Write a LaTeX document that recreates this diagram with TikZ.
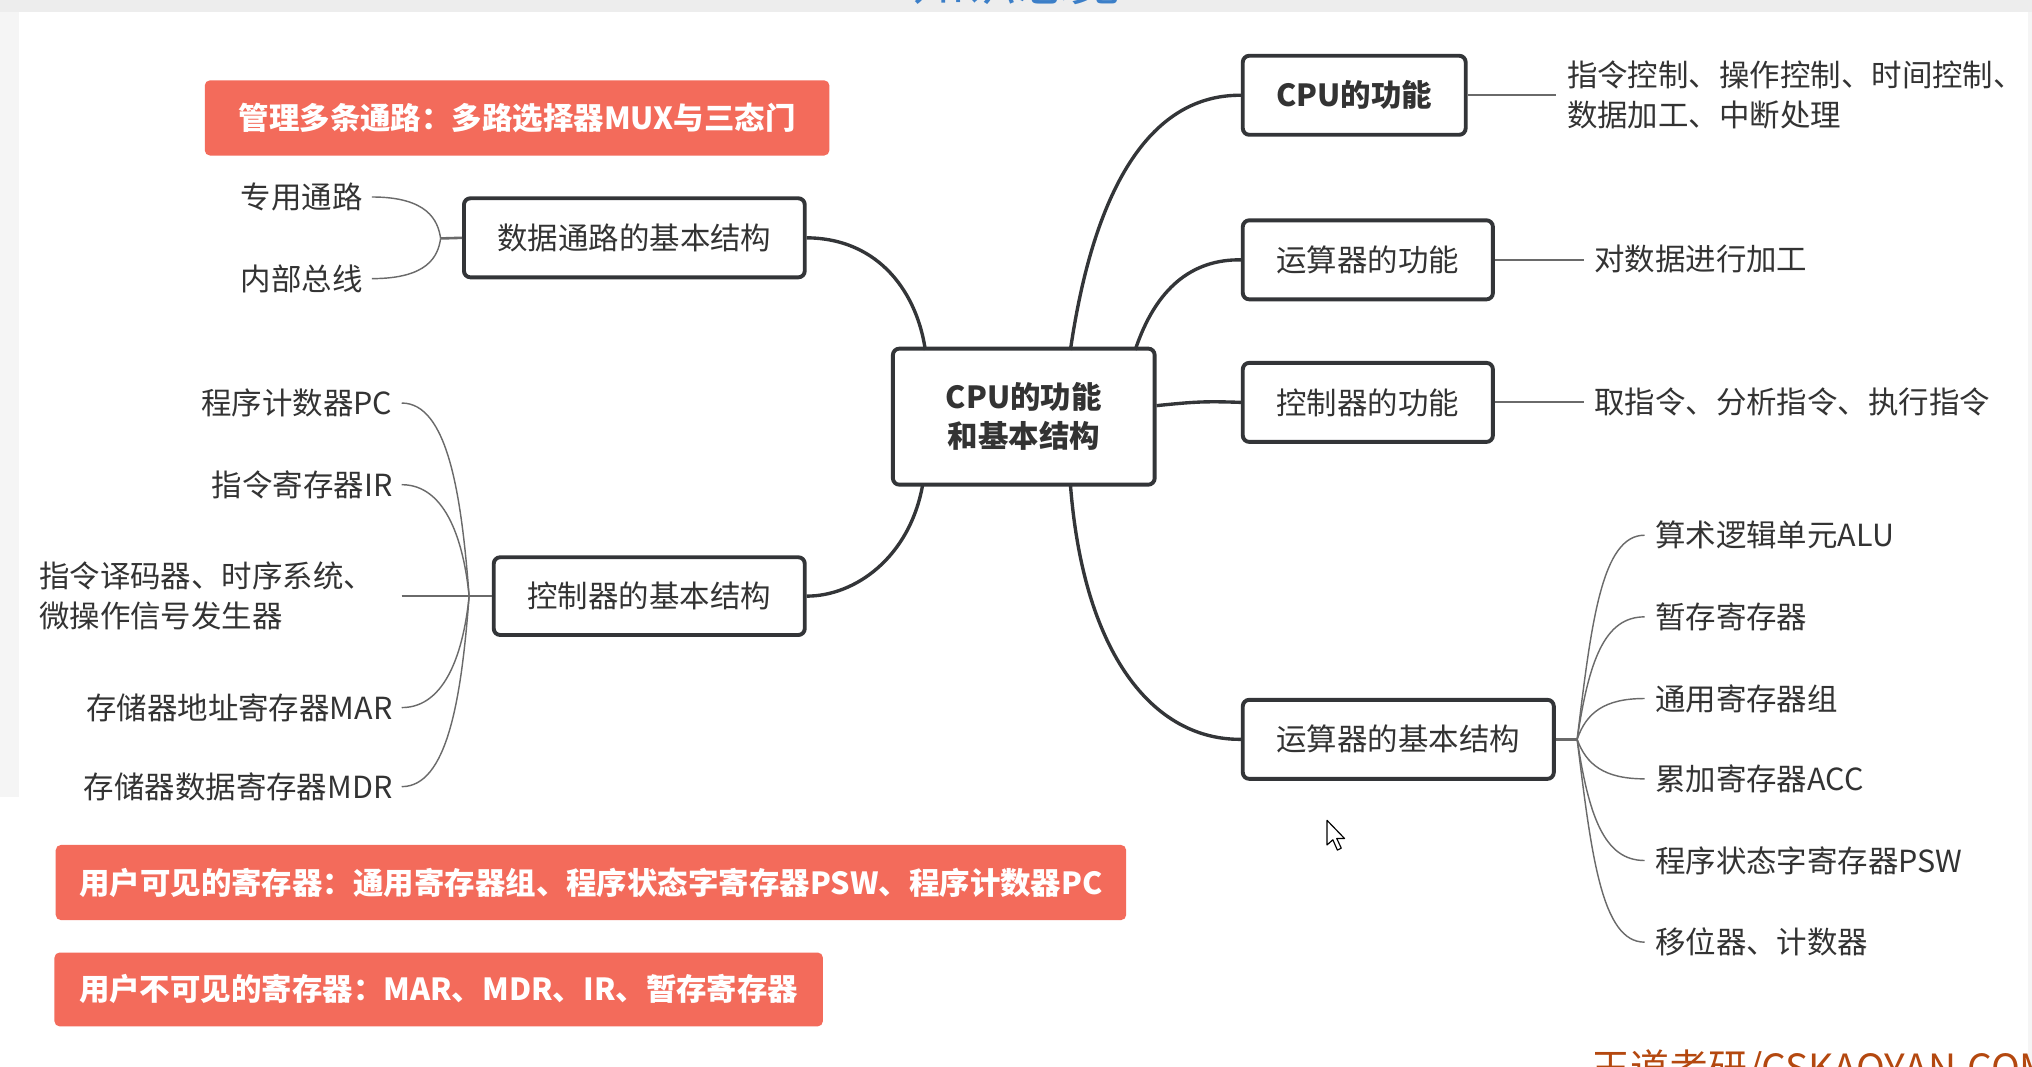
\documentclass[tikz,border=0pt]{standalone}
\usepackage{fontspec}
\setmainfont{Noto Sans CJK SC}
\usetikzlibrary{positioning}
\definecolor{boxline}{HTML}{333538}
\definecolor{redfill}{HTML}{F36B5B}
\definecolor{txt}{HTML}{333333}
\definecolor{thin}{HTML}{6A6A6A}
\definecolor{wm}{HTML}{B4480F}
\definecolor{ttl}{HTML}{3C7FC8}
\tikzset{
  mainbox/.style={draw=boxline, line width=3pt, rounded corners=5pt, fill=white,
    text=txt, inner sep=0pt, align=center, font=\fontsize{23.5}{30}\selectfont},
  redbox/.style={fill=redfill, rounded corners=4pt, text=white, inner sep=0pt,
    font=\fontsize{23.5}{28}\selectfont\bfseries},
  leaf/.style={text=txt, inner sep=0pt, align=left, font=\fontsize{23.5}{31}\selectfont},
  thick link/.style={draw=boxline, line width=2.6pt},
  thin link/.style={draw=thin, line width=1.1pt},
  stub/.style={draw=thin, line width=2pt},
}
\begin{document}
\begin{tikzpicture}[x=1pt,y=-1pt]
\useasboundingbox (0,0) rectangle (1568,823);
\clip (0,0) rectangle (1568,823);
% backgrounds
\fill[white] (0,0) rectangle (1568,823);
\fill[black!7] (0,0) rectangle (1568,9);
\fill[black!4] (0,9) rectangle (15,615);
\fill[black!4] (1565,9) rectangle (1568,823);
\node[text=ttl, font=\fontsize{40}{40}\selectfont, anchor=south, inner sep=0pt] (title) at (785,4) {知识总览};
\node[text=wm, font=\fontsize{30}{30}\selectfont, anchor=north west, inner sep=0pt] (wmark) at (1228,810) {王道考研/CSKAOYAN.COM};

% main nodes
\node[mainbox, minimum width=202pt, minimum height=105pt, font=\fontsize{23.5}{30}\selectfont\bfseries] (cpu) at (790,321.5) {CPU的功能\\和基本结构};
\node[mainbox, minimum width=263pt, minimum height=61pt] (data) at (489.5,183.5) {数据通路的基本结构};
\node[mainbox, minimum width=240pt, minimum height=60pt] (cstruct) at (501,460) {控制器的基本结构};
\node[mainbox, minimum width=172pt, minimum height=61pt, font=\fontsize{23.5}{30}\selectfont\bfseries] (cpuf) at (1045,73.5) {CPU的功能};
\node[mainbox, minimum width=193pt, minimum height=61pt] (aluf) at (1055.5,200.5) {运算器的功能};
\node[mainbox, minimum width=193pt, minimum height=61pt] (ctrlf) at (1055.5,310.5) {控制器的功能};
\node[mainbox, minimum width=240pt, minimum height=61pt] (astruct) at (1079,570.5) {运算器的基本结构};

% red notes
\node[redbox, minimum width=482pt, minimum height=58pt] (note1) at (399,91) {管理多条通路：多路选择器MUX与三态门};
\node[redbox, minimum width=826pt, minimum height=58pt] (note2) at (456,681) {用户可见的寄存器：通用寄存器组、程序状态字寄存器PSW、程序计数器PC};
\node[redbox, minimum width=593pt, minimum height=57pt] (note3) at (338.5,763.5) {用户不可见的寄存器：MAR、MDR、IR、暂存寄存器};

% main connectors
\draw[thick link] (data.east) .. controls (680,184) and (708,228) .. (714,270);
\draw[thick link] (cstruct.east) .. controls (660,460) and (702,430) .. (712,374);
\draw[thick link] (826,270) .. controls (845,140) and (890,73) .. (cpuf.west);
\draw[thick link] (876,270) .. controls (892,222) and (920,200) .. (aluf.west);
\draw[thick link] (cpu.east |- 0,313) .. controls (922,310) and (930,309.5) .. (ctrlf.west);
\draw[thick link] (826,374) .. controls (836,505) and (890,571) .. (astruct.west);

% data path leaves
\node[leaf, anchor=east] (zy) at (280,152) {专用通路};
\node[leaf, anchor=east] (nb) at (280,215) {内部总线};
\coordinate (dj) at (340,184);
\draw[stub] (dj) -- (data.west);
\draw[thin link] (zy.east) ++(7,0) coordinate (zye) .. controls (330,152) and (338,170) .. (dj);
\draw[thin link] (nb.east) ++(7,0) coordinate (nbe) .. controls (330,215) and (338,198) .. (dj);

% controller structure leaves
\node[leaf, anchor=east] (pc) at (303,311) {程序计数器PC};
\node[leaf, anchor=east] (ir) at (303,374) {指令寄存器IR};
\node[leaf, anchor=west] (dec) at (30,460) {指令译码器、时序系统、\\微操作信号发生器};
\node[leaf, anchor=east] (mar) at (303,546) {存储器地址寄存器MAR};
\node[leaf, anchor=east] (mdr) at (303,607) {存储器数据寄存器MDR};
\coordinate (cj) at (362,460);
\draw[stub] (cj) -- (cstruct.west);
\draw[thin link] (310,311) .. controls (345,311) and (356,380) .. (cj);
\draw[thin link] (310,374) .. controls (345,374) and (358,420) .. (cj);
\draw[thin link, line width=1.6pt] (310,460) -- (cj);
\draw[thin link] (310,546) .. controls (345,546) and (358,500) .. (cj);
\draw[thin link] (310,607) .. controls (345,607) and (356,540) .. (cj);

% function leaves
\node[leaf, anchor=west] (cpuft) at (1209,73.5) {指令控制、操作控制、时间控制、\\数据加工、中断处理};
\node[leaf, anchor=west] (alut) at (1230,200) {对数据进行加工};
\node[leaf, anchor=west] (ctrlt) at (1230,310) {取指令、分析指令、执行指令};
\draw[thin link, line width=1.6pt] (cpuf.east) -- (1201,73.5);
\draw[thin link, line width=1.6pt] (aluf.east) -- (1222,200.5);
\draw[thin link, line width=1.6pt] (ctrlf.east) -- (1222,310.5);

% ALU structure leaves
\coordinate (aj) at (1217,570.5);
\draw[stub] (astruct.east) -- (aj);
\node[leaf, anchor=west] (alu) at (1277,413) {算术逻辑单元ALU};
\node[leaf, anchor=west] (tmp) at (1277,476) {暂存寄存器};
\node[leaf, anchor=west] (gpr) at (1277,539) {通用寄存器组};
\node[leaf, anchor=west] (acc) at (1277,601) {累加寄存器ACC};
\node[leaf, anchor=west] (psw) at (1277,664) {程序状态字寄存器PSW};
\node[leaf, anchor=west] (shf) at (1277,727) {移位器、计数器};
\draw[thin link] (aj) .. controls (1228,480) and (1236,413) .. (1269,413);
\draw[thin link] (aj) .. controls (1226,510) and (1238,476) .. (1269,476);
\draw[thin link] (aj) .. controls (1224,550) and (1238,539) .. (1269,539);
\draw[thin link] (aj) .. controls (1224,590) and (1238,601) .. (1269,601);
\draw[thin link] (aj) .. controls (1226,630) and (1238,664) .. (1269,664);
\draw[thin link] (aj) .. controls (1228,660) and (1236,727) .. (1269,727);

% mouse cursor
\draw[black, line width=0.9pt, fill=white, line join=round]
  (1024,633) -- (1024,652) -- (1028.5,648) -- (1032,656) -- (1035,654.5) -- (1031.5,647) -- (1037.5,647) -- cycle;
\end{tikzpicture}
\end{document}
